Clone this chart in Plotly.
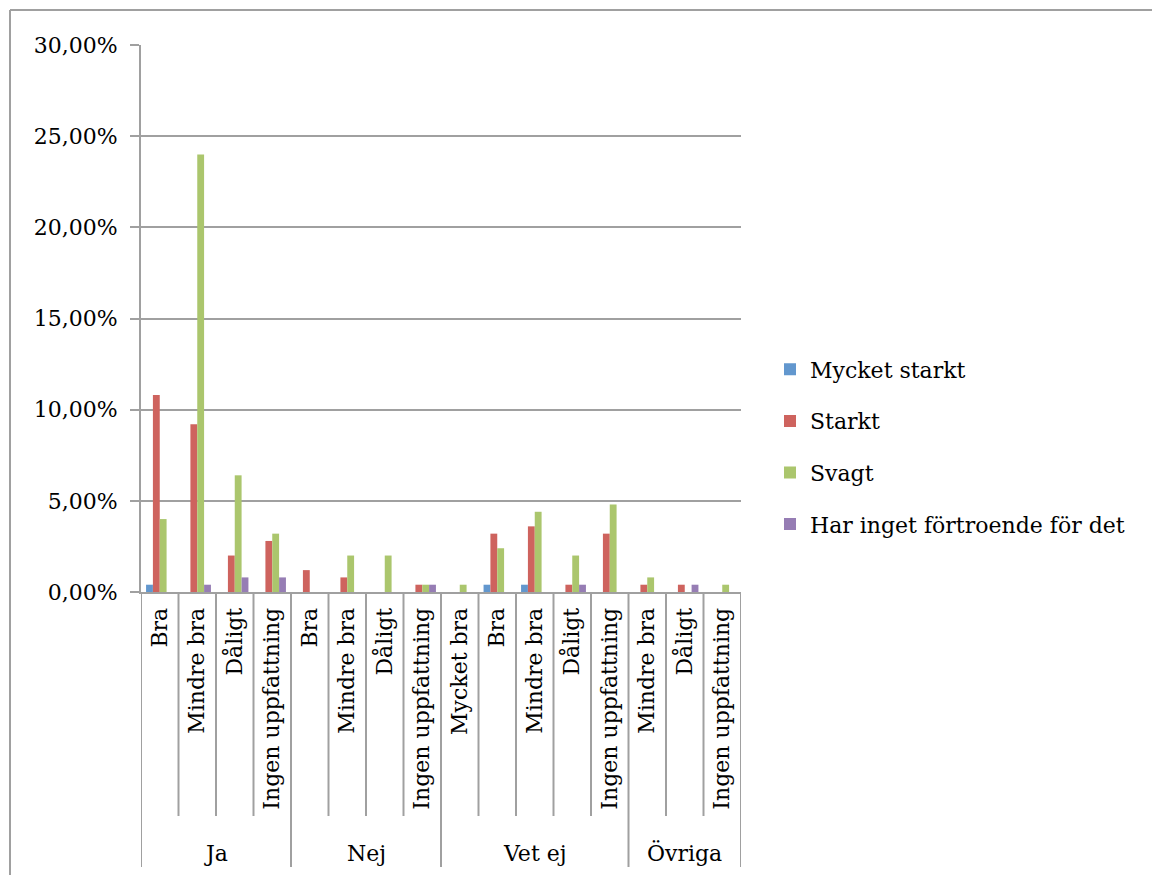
import plotly.graph_objects as go

# Survey answers: outer group / inner category
groups = ["Ja"] * 4 + ["Nej"] * 4 + ["Vet ej"] * 5 + ["Övriga"] * 3
subs = [
    "Bra", "Mindre bra", "Dåligt", "Ingen uppfattning",
    "Bra", "Mindre bra", "Dåligt", "Ingen uppfattning",
    "Mycket bra", "Bra", "Mindre bra", "Dåligt", "Ingen uppfattning",
    "Mindre bra", "Dåligt", "Ingen uppfattning",
]

# Shares in percent
mycket_starkt = [0.4, 0, 0, 0, 0, 0, 0, 0, 0, 0.4, 0.4, 0, 0, 0, 0, 0]
starkt = [10.8, 9.2, 2.0, 2.8, 1.2, 0.8, 0, 0.4, 0, 3.2, 3.6, 0.4, 3.2, 0.4, 0.4, 0]
svagt = [4.0, 24.0, 6.4, 3.2, 0, 2.0, 2.0, 0.4, 0.4, 2.4, 4.4, 2.0, 4.8, 0.8, 0, 0.4]
inget = [0, 0.4, 0.8, 0.8, 0, 0, 0, 0.4, 0, 0, 0, 0.4, 0, 0, 0.4, 0]

series = [
    ("Mycket starkt", mycket_starkt, "#6297CE"),
    ("Starkt", starkt, "#CE635E"),
    ("Svagt", svagt, "#ABC66D"),
    ("Har inget förtroende för det", inget, "#967DB4"),
]

FONT = "DejaVu Serif"
GRID = "#a0a0a0"

W, H = 1152, 875
L, R, T, B = 141, 411, 45, 283
plot_h = H - T - B


def py(pix):
    """Convert a pixel row to paper y."""
    return (H - B - pix) / plot_h


def px(pix):
    """Convert a pixel column to paper x."""
    return (pix - L) / (W - L - R)


xs = list(range(len(subs)))

fig = go.Figure()
for name, vals, color in series:
    fig.add_trace(go.Bar(
        x=xs,
        y=[v / 100 for v in vals],
        name=name,
        legendgroup=name,
        marker=dict(color=color, line=dict(width=0)),
    ))

shapes = []
# outer chart frame (left and top edges)
shapes.append(dict(type="line", xref="paper", yref="paper",
                   x0=px(10), x1=px(10), y0=py(10), y1=py(H + 5),
                   line=dict(color=GRID, width=2)))
shapes.append(dict(type="line", xref="paper", yref="paper",
                   x0=px(10), x1=px(W + 5), y0=py(10), y1=py(10),
                   line=dict(color=GRID, width=2)))

# category separators below the axis
group_edges = [-0.5]
for i in range(1, len(groups)):
    if groups[i] != groups[i - 1]:
        group_edges.append(i - 0.5)
group_edges.append(len(groups) - 0.5)

for i in range(len(subs) + 1):
    xb = i - 0.5
    long = xb in group_edges
    shapes.append(dict(type="line", xref="x", yref="paper",
                       x0=xb, x1=xb, y0=0, y1=py(867 if long else 816),
                       line=dict(color=GRID, width=2)))

annotations = []
for g0, g1 in zip(group_edges[:-1], group_edges[1:]):
    name = groups[int(g0 + 0.5)]
    annotations.append(dict(x=(g0 + g1) / 2, y=py(853), xref="x", yref="paper",
                            text=name, showarrow=False,
                            font=dict(family=FONT, size=22, color="black"),
                            xanchor="center", yanchor="middle"))

fig.update_layout(
    width=W, height=H,
    margin=dict(l=L, r=R, t=T, b=B, pad=0),
    paper_bgcolor="white", plot_bgcolor="white",
    separators=",.",
    barmode="group", bargap=0.27, bargroupgap=0,
    font=dict(family=FONT, size=22, color="black"),
    shapes=shapes,
    annotations=annotations,
    legend=dict(x=px(770), xanchor="left", y=py(447), yanchor="middle",
                font=dict(family=FONT, size=22, color="black"),
                tracegroupgap=20, bgcolor="rgba(0,0,0,0)"),
    showlegend=True,
)

fig.update_xaxes(
    range=[-0.5, len(subs) - 0.5],
    tickmode="array", tickvals=xs, ticktext=subs,
    tickangle=-90, ticks="", ticklabelstandoff=5,
    showgrid=False, zeroline=False,
    showline=True, linecolor=GRID, linewidth=2,
    tickfont=dict(family=FONT, size=22, color="black"),
)
fig.update_yaxes(
    range=[0, 0.30], dtick=0.05, tickformat=".2%",
    showgrid=True, gridcolor=GRID, gridwidth=2,
    zeroline=False,
    showline=True, linecolor=GRID, linewidth=2,
    ticks="outside", ticklen=9, tickcolor=GRID, tickwidth=2,
    ticklabelstandoff=8,
    tickfont=dict(family=FONT, size=22, color="black"),
)

fig.write_html("out.html")
